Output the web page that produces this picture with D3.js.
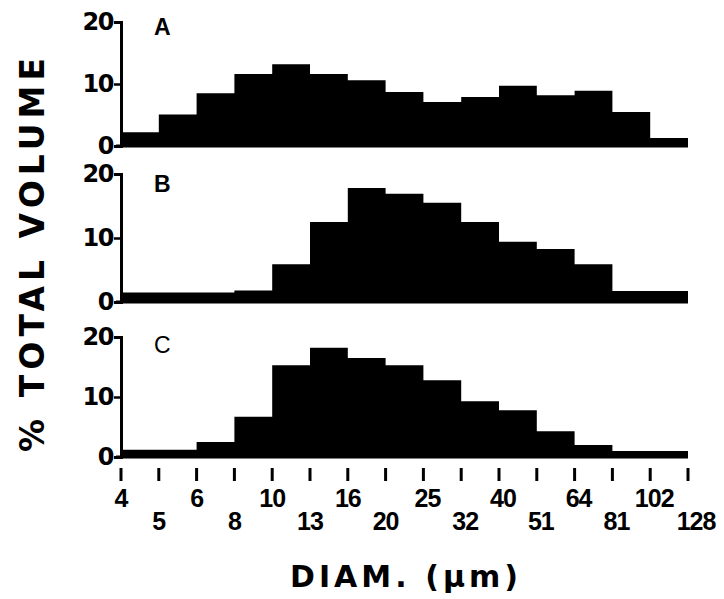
<!DOCTYPE html>
<html>
<head>
<meta charset="utf-8">
<script src="https://cdn.jsdelivr.net/npm/d3@7"></script>
<style>
  html, body { margin: 0; padding: 0; background: #fff; }
  svg { display: block; }
</style>
</head>
<body>
<svg id="chart" width="724" height="599"></svg>
<script>
// Bin edge tick labels (diameter, µm)
const edgeLabels = ["4","5","6","8","10","13","16","20","25","32","40","51","64","81","102","128"];
// % total volume per bin (15 bins between the edges above)
const seriesA = [2.2, 5.1, 8.5, 11.6, 13.2, 11.6, 10.6, 8.7, 7.1, 7.9, 9.7, 8.2, 8.9, 5.5, 1.3];
const seriesB = [1.5, 1.5, 1.5, 1.8, 5.9, 12.5, 17.8, 16.9, 15.5, 12.5, 9.4, 8.3, 5.9, 1.7, 1.7];
const seriesC = [1.2, 1.2, 2.5, 6.7, 15.3, 18.2, 16.5, 15.3, 12.8, 9.3, 7.8, 4.3, 2.0, 1.0, 1.0];
const panelLabels = ["A", "B", "C"];
const yTicks = [0, 10, 20];

const svg = d3.select("#chart");

const x = d3.scaleLinear().domain([0, edgeLabels.length - 1]).range([121, 688]);

const panels = [
  { name: panelLabels[0], data: seriesA, y0: 146, y20: 22, labelY: 35, weight: "bold" },
  { name: panelLabels[1], data: seriesB, y0: 302, y20: 174, labelY: 192, weight: "bold" },
  { name: panelLabels[2], data: seriesC, y0: 457, y20: 337, labelY: 353, weight: "normal" }
];

panels.forEach(p => {
  const y = d3.scaleLinear().domain([0, 20]).range([p.y0, p.y20]);
  const g = svg.append("g");

  // histogram as one stepped filled shape (each bin from its left edge to the next)
  const pts = p.data.map((v, i) => ({ i, v }));
  pts.push({ i: p.data.length, v: p.data[p.data.length - 1] });
  const area = d3.area()
    .x(d => x(d.i))
    .y0(y(0))
    .y1(d => y(d.v))
    .curve(d3.curveStepAfter);
  g.append("path")
    .datum(pts)
    .attr("d", area)
    .attr("fill", "#000");

  // baseline
  g.append("line")
    .attr("x1", x(0) - 5).attr("x2", x(edgeLabels.length - 1))
    .attr("y1", y(0)).attr("y2", y(0))
    .attr("stroke", "#000").attr("stroke-width", 3);

  // y axis
  const axis = d3.axisLeft(y).tickValues(yTicks).tickSize(7).tickPadding(1)
    .tickFormat(d3.format("d"));
  const ga = g.append("g").attr("transform", `translate(${x(0)},0)`).call(axis);
  ga.select(".domain").attr("stroke", "#000").attr("stroke-width", 3);
  ga.selectAll(".tick line").attr("stroke", "#000").attr("stroke-width", 2.5);
  ga.selectAll(".tick text")
    .attr("font-family", "'DejaVu Sans', sans-serif")
    .attr("font-weight", "bold")
    .attr("font-size", 24)
    .attr("letter-spacing", -1.5)
    .attr("fill", "#000");

  // panel letter
  g.append("text")
    .attr("x", 154).attr("y", p.labelY)
    .attr("font-family", "'Liberation Sans', Arial, sans-serif")
    .attr("font-weight", p.weight)
    .attr("font-size", 23)
    .attr("fill", "#000")
    .text(p.name);
});

// x axis ticks + labels (alternating rows)
const xa = svg.append("g");
xa.selectAll("line.xt")
  .data(edgeLabels)
  .join("line")
  .attr("class", "xt")
  .attr("x1", (d, i) => x(i)).attr("x2", (d, i) => x(i))
  .attr("y1", 468).attr("y2", 481)
  .attr("stroke", "#000").attr("stroke-width", 3);

xa.selectAll("text.xl")
  .data(edgeLabels)
  .join("text")
  .attr("class", "xl")
  .attr("x", (d, i) => x(i) + (i === edgeLabels.length - 1 ? 8 : (i >= 8 ? 4 : 0)))
  .attr("y", (d, i) => i % 2 === 0 ? 507 : 530)
  .attr("text-anchor", "middle")
  .attr("font-family", "'Liberation Sans', Arial, sans-serif")
  .attr("font-weight", "bold")
  .attr("font-size", 25)
  .attr("letter-spacing", -1)
  .attr("fill", "#000")
  .text(d => d);

// axis titles
svg.append("text")
  .attr("x", 404).attr("y", 587)
  .attr("text-anchor", "middle")
  .attr("font-family", "'DejaVu Sans', sans-serif")
  .attr("font-weight", "bold")
  .attr("font-size", 30)
  .attr("textLength", 228)
  .attr("lengthAdjust", "spacing")
  .attr("fill", "#000")
  .text("DIAM. (μm)");

svg.append("text")
  .attr("transform", "translate(44,255) rotate(-90)")
  .attr("text-anchor", "middle")
  .attr("font-family", "'DejaVu Sans', sans-serif")
  .attr("font-weight", "bold")
  .attr("font-size", 33)
  .attr("textLength", 394)
  .attr("lengthAdjust", "spacing")
  .attr("fill", "#000")
  .text("% TOTAL VOLUME");
</script>
</body>
</html>
